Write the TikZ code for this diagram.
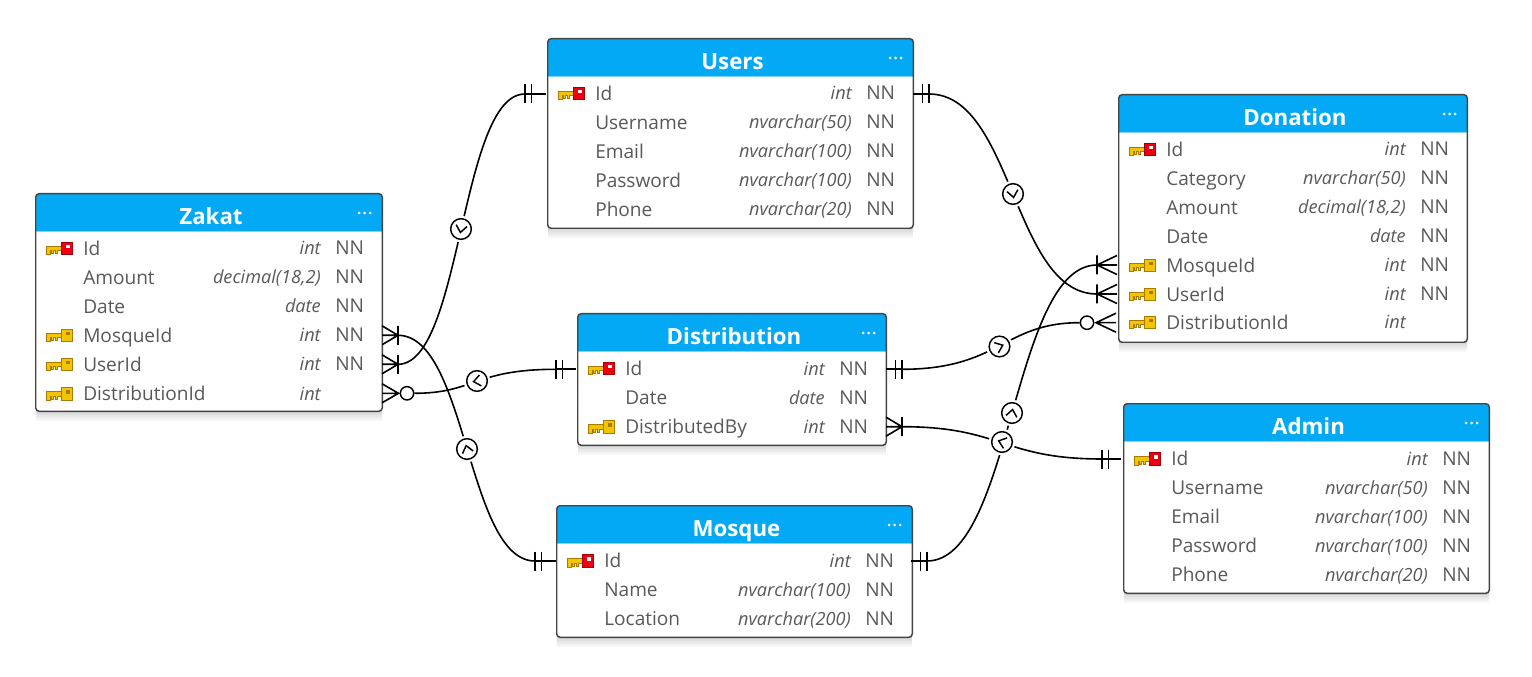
\documentclass[tikz,border=0pt]{standalone}
\usepackage{fontspec}
\setmainfont{Open Sans}
\usetikzlibrary{shadows}
\definecolor{headblue}{HTML}{03A9F4}
\definecolor{headline}{HTML}{81D4FA}
\definecolor{boxgray}{HTML}{444444}
\definecolor{textgray}{HTML}{595959}
\definecolor{keygold}{HTML}{F5C400}
\definecolor{keydark}{HTML}{A87B00}
\definecolor{keyred}{HTML}{EE0010}
\definecolor{keyreddark}{HTML}{A00008}
\tikzset{
  softshadow/.style={general shadow={fill=black,opacity=.03,shadow yshift=#1}},
  tablebox/.style={rectangle,fill=white,inner sep=0pt,
    softshadow=-1.5pt,softshadow=-3pt,softshadow=-4.5pt,softshadow=-6pt,softshadow=-7.5pt},
  boxline/.style={draw=boxgray,line width=1.1pt,rounded corners=2.5pt},
  tabletitle/.style={anchor=base,text=white,font=\fontsize{16.7}{18}\selectfont\bfseries,inner sep=0pt},
  colname/.style={anchor=base west,text=textgray,font=\fontsize{14.3}{16}\selectfont,inner sep=0pt},
  coltype/.style={anchor=base east,text=textgray,font=\fontsize{13.6}{16}\selectfont\itshape,inner sep=0pt},
  colnull/.style={anchor=base west,text=textgray,font=\fontsize{14.3}{16}\selectfont,inner sep=0pt},
  conn/.style={draw=black,line width=1.2pt},
  relmark/.style={circle,draw=black,fill=white,line width=1.1pt,minimum size=15.5pt,inner sep=0pt,
    preaction={draw=white,line width=4.5pt}},
  optmark/.style={circle,draw=black,fill=white,line width=1.1pt,minimum size=10pt,inner sep=0pt},
  pics/erkey/.style n args={3}{code={
    \fill[draw=keydark,fill=keygold,line width=.75pt] (10.5,-1.5) -- (25,-1.5) -- (25,3) -- (21.5,3) -- (21.5,6) -- (19.5,6) -- (19.5,3)
      -- (17.5,3) -- (17.5,6) -- (15.5,6) -- (15.5,3) -- (14,3) -- (14,7) -- (10.5,7) -- cycle;
    \fill[draw=#2,fill=#1,line width=.75pt] (25,-5.5) rectangle (36,7);
    \fill[#3] (29.5,-3) rectangle (33.5,.5);
  }}
}
\newcommand{\erbox}[6]{
  \node (#1) [tablebox,minimum width={(#4-#2)*.75pt},minimum height={(#5-#3)*.75pt}] at ({(#2+#4)/2},{(#3+#5)/2}) {};
  \fill[headblue] (#2,#3+37) [rounded corners=2.5pt] -- (#2,#3) -- (#4,#3) [sharp corners] -- (#4,#3+37) -- cycle;
  \draw[headline,line width=.75pt] (#2,#3+37.5) -- (#4,#3+37.5);
  \draw[boxline] (#1.south west) rectangle (#1.north east);
  \node (#1title) [tabletitle] at ({(#2+#4)/2+2},#3+30.5) {#6};
  \fill[white] (#4-23,#3+19) circle (1.5) (#4-17.5,#3+19) circle (1.5) (#4-12,#3+19) circle (1.5);
}
\newcommand{\colrow}[6]{
  \node (#1) [colname] at (#2+47,#4+7.5) {#5};
  \node (#1type) [coltype] at (#3-61,#4+7) {#6};
}
\newcommand{\colnn}[3]{\node (#1nn) [colnull] at (#2-47,#3+7) {NN};}
\newcommand{\crowfoot}[2]{\draw[conn,shift={(#1)}] (0,0) -- (#2,0) (0,-9.5) -- (0,9.5) (#2,-9.5) -- (0,0) -- (#2,9.5);}
\newcommand{\optfoot}[3]{\draw[conn,shift={(#1)}] (#2,0) -- (#3,0) (#3,-9.5) -- (#2,0) -- (#3,9.5);}
\newcommand{\barpair}[3]{\draw[conn,shift={(#1)},xscale=#2] (0,0) -- (#3,0) (0,-9.5) -- (0,9.5) (6.5,-9.5) -- (6.5,9.5);}
\newcommand{\relchev}[3]{
  \node (#1) [relmark] at (#2) {};
  \draw[line width=1.1pt,shift={(#1)}] (#3+122:6.5) -- (#3:3.5) -- (#3-122:6.5);
}
\begin{document}
\begin{tikzpicture}[x=.75pt,y=-.75pt]
\useasboundingbox (0,0) rectangle (1532,677);
\fill[white] (0,0) rectangle (1532,677);
% Users
\erbox{users}{548}{39}{913}{228}{Users}
\pic at (548,93) {erkey={keyred}{keyreddark}{white}};
\colrow{usersId}{548}{913}{93}{Id}{int}\colnn{usersId}{913}{93}
\colrow{usersName}{548}{913}{122}{Username}{nvarchar(50)}\colnn{usersName}{913}{122}
\colrow{usersEmail}{548}{913}{151}{Email}{nvarchar(100)}\colnn{usersEmail}{913}{151}
\colrow{usersPass}{548}{913}{180}{Password}{nvarchar(100)}\colnn{usersPass}{913}{180}
\colrow{usersPhone}{548}{913}{209}{Phone}{nvarchar(20)}\colnn{usersPhone}{913}{209}
% Donation
\erbox{donation}{1119}{95}{1467}{342}{Donation}
\pic at (1119,149) {erkey={keyred}{keyreddark}{white}};
\pic at (1119,265) {erkey={keygold}{keydark}{keydark}};
\pic at (1119,294) {erkey={keygold}{keydark}{keydark}};
\pic at (1119,322) {erkey={keygold}{keydark}{keydark}};
\colrow{donId}{1119}{1467}{149}{Id}{int}\colnn{donId}{1467}{149}
\colrow{donCat}{1119}{1467}{178}{Category}{nvarchar(50)}\colnn{donCat}{1467}{178}
\colrow{donAmount}{1119}{1467}{207}{Amount}{decimal(18,2)}\colnn{donAmount}{1467}{207}
\colrow{donDate}{1119}{1467}{236}{Date}{date}\colnn{donDate}{1467}{236}
\colrow{donMosque}{1119}{1467}{265}{MosqueId}{int}\colnn{donMosque}{1467}{265}
\colrow{donUser}{1119}{1467}{294}{UserId}{int}\colnn{donUser}{1467}{294}
\colrow{donDist}{1119}{1467}{322}{DistributionId}{int}
% Zakat
\erbox{zakat}{36}{194}{382}{411}{Zakat}
\pic at (36,248) {erkey={keyred}{keyreddark}{white}};
\pic at (36,335) {erkey={keygold}{keydark}{keydark}};
\pic at (36,364) {erkey={keygold}{keydark}{keydark}};
\pic at (36,393) {erkey={keygold}{keydark}{keydark}};
\colrow{zkId}{36}{382}{248}{Id}{int}\colnn{zkId}{382}{248}
\colrow{zkAmount}{36}{382}{277}{Amount}{decimal(18,2)}\colnn{zkAmount}{382}{277}
\colrow{zkDate}{36}{382}{306}{Date}{date}\colnn{zkDate}{382}{306}
\colrow{zkMosque}{36}{382}{335}{MosqueId}{int}\colnn{zkMosque}{382}{335}
\colrow{zkUser}{36}{382}{364}{UserId}{int}\colnn{zkUser}{382}{364}
\colrow{zkDist}{36}{382}{393}{DistributionId}{int}
% Distribution
\erbox{dist}{578}{314}{886}{445}{Distribution}
\pic at (578,368) {erkey={keyred}{keyreddark}{white}};
\pic at (578,426) {erkey={keygold}{keydark}{keydark}};
\colrow{distId}{578}{886}{368}{Id}{int}\colnn{distId}{886}{368}
\colrow{distDate}{578}{886}{397}{Date}{date}\colnn{distDate}{886}{397}
\colrow{distBy}{578}{886}{426}{DistributedBy}{int}\colnn{distBy}{886}{426}
% Mosque
\erbox{mosque}{557}{506}{912}{637}{Mosque}
\pic at (557,560) {erkey={keyred}{keyreddark}{white}};
\colrow{mosId}{557}{912}{560}{Id}{int}\colnn{mosId}{912}{560}
\colrow{mosName}{557}{912}{589}{Name}{nvarchar(100)}\colnn{mosName}{912}{589}
\colrow{mosLoc}{557}{912}{618}{Location}{nvarchar(200)}\colnn{mosLoc}{912}{618}
% Admin
\erbox{admin}{1124}{404}{1489}{593}{Admin}
\pic at (1124,458) {erkey={keyred}{keyreddark}{white}};
\colrow{admId}{1124}{1489}{458}{Id}{int}\colnn{admId}{1489}{458}
\colrow{admName}{1124}{1489}{487}{Username}{nvarchar(50)}\colnn{admName}{1489}{487}
\colrow{admEmail}{1124}{1489}{516}{Email}{nvarchar(100)}\colnn{admEmail}{1489}{516}
\colrow{admPass}{1124}{1489}{545}{Password}{nvarchar(100)}\colnn{admPass}{1489}{545}
\colrow{admPhone}{1124}{1489}{574}{Phone}{nvarchar(20)}\colnn{admPhone}{1489}{574}
% connector ends
\coordinate (zkUserEnd) at (398,364.3);
\coordinate (zkMosqueEnd) at (398,335.3);
\coordinate (usersIdW) at (525,94);
\coordinate (usersIdE) at (929,94);
\coordinate (mosIdW) at (535,561);
\coordinate (mosIdE) at (927,561);
\coordinate (distIdW) at (556,369.3);
\coordinate (distIdE) at (902,369.3);
\coordinate (distByEnd) at (902,426.7);
\coordinate (admIdW) at (1102,459);
\coordinate (donMosqueEnd) at (1097,265);
\coordinate (donUserEnd) at (1097,294);
\node (zkDistOpt) [optmark] at (407,393.3) {};
\node (donDistOpt) [optmark] at (1087,322.7) {};
% connectors
\draw[conn] (zkUserEnd) .. controls +(64,0) and +(-65,0) .. (usersIdW);
\draw[conn] (zkMosqueEnd) .. controls +(69,0) and +(-68,0) .. (mosIdW);
\draw[conn] (zkDistOpt.east) .. controls +(60,0) and +(-82,0) .. (distIdW);
\draw[conn] (usersIdE) .. controls +(84,0) and +(-84,0) .. (donUserEnd);
\draw[conn] (distIdE) .. controls +(98,0) and +(-76,0) .. (donDistOpt.west);
\draw[conn] (mosIdE) .. controls +(85,0) and +(-85,0) .. (donMosqueEnd);
\draw[conn] (distByEnd) .. controls +(100,0) and +(-100,0) .. (admIdW);
% ends
\crowfoot{zkUserEnd}{-16}
\crowfoot{zkMosqueEnd}{-16}
\crowfoot{distByEnd}{-16}
\crowfoot{donMosqueEnd}{20}
\crowfoot{donUserEnd}{20}
\optfoot{zkDistOpt}{-8.5}{-25}
\optfoot{donDistOpt}{9}{29}
\barpair{usersIdW}{1}{21}
\barpair{mosIdW}{1}{21}
\barpair{distIdW}{1}{20}
\barpair{admIdW}{1}{19}
\barpair{usersIdE}{-1}{16}
\barpair{mosIdE}{-1}{16}
\barpair{distIdE}{-1}{16}
% relation marks
\relchev{relUsersZk}{461,229}{100}
\relchev{relMosZk}{467,449}{256}
\relchev{relDistZk}{477,381}{170}
\relchev{relUsersDon}{1013,194}{80}
\relchev{relDistDon}{999.5,346.5}{-22}
\relchev{relMosDon}{1012,413}{-80}
\relchev{relAdmDist}{1002,442}{199}
\end{tikzpicture}
\end{document}
